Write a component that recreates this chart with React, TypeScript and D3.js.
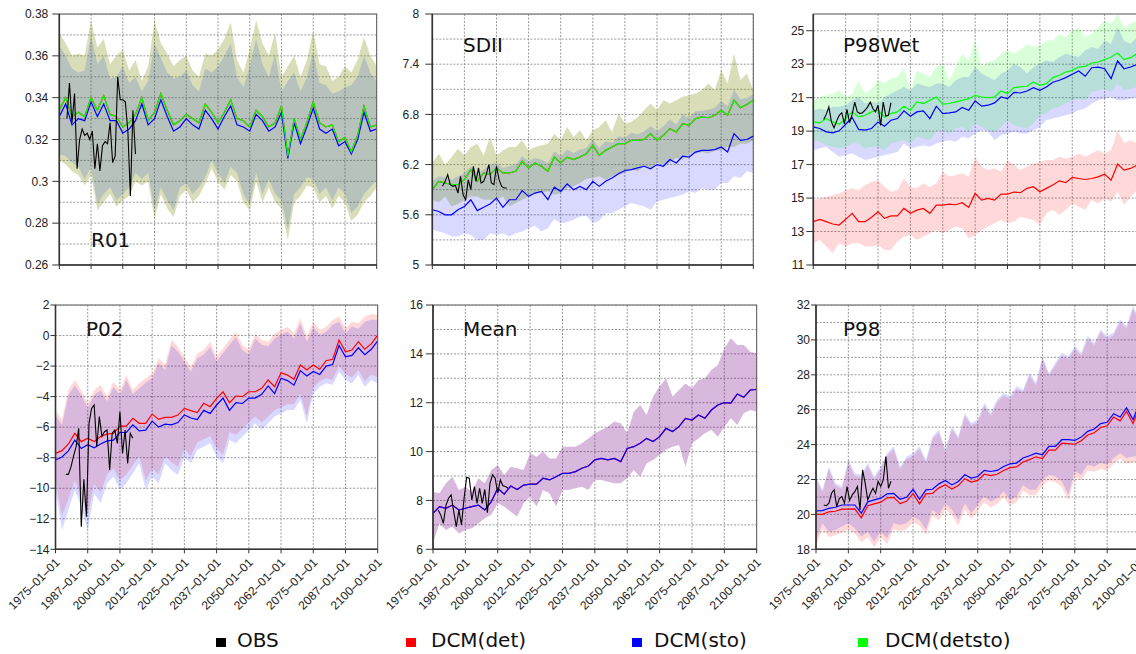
import React from "react";
import * as d3 from "d3";

// x categories: one sample every 2.5 years
const years = d3.range(51).map((i) => 1975 + i * 2.5);
const tickYears = d3.range(11).map((i) => 1975 + i * 12.5);

const OBS = "#000000";
const DET = "#ff0000";
const STO = "#0000ff";
const DETSTO = "#00ff00";

// ---- R01
const r01Det = [0.334,0.340,0.331,0.333,0.331,0.340,0.334,0.341,0.332,0.331,0.326,0.328,0.332,0.340,0.329,0.333,0.342,0.334,0.327,0.329,0.332,0.330,0.328,0.337,0.333,0.328,0.333,0.339,0.330,0.329,0.326,0.334,0.331,0.326,0.328,0.336,0.312,0.330,0.320,0.328,0.338,0.328,0.326,0.327,0.319,0.321,0.314,0.322,0.336,0.326,0.327];
const r01Sto = [0.331,0.337,0.327,0.330,0.329,0.338,0.331,0.337,0.329,0.329,0.323,0.325,0.329,0.337,0.327,0.330,0.339,0.331,0.324,0.326,0.330,0.327,0.325,0.334,0.330,0.325,0.331,0.336,0.327,0.326,0.324,0.332,0.329,0.324,0.326,0.333,0.311,0.328,0.318,0.326,0.335,0.325,0.323,0.325,0.317,0.319,0.313,0.320,0.333,0.324,0.325];
const r01DetHi = [0.371,0.366,0.360,0.361,0.360,0.377,0.364,0.368,0.356,0.360,0.363,0.353,0.358,0.348,0.355,0.377,0.366,0.361,0.355,0.358,0.360,0.353,0.350,0.361,0.360,0.363,0.368,0.376,0.358,0.352,0.363,0.377,0.366,0.360,0.371,0.350,0.355,0.360,0.350,0.358,0.372,0.356,0.355,0.348,0.350,0.355,0.352,0.358,0.369,0.360,0.355];
const r01DetLo = [0.310,0.308,0.305,0.303,0.298,0.303,0.286,0.290,0.294,0.288,0.291,0.293,0.300,0.298,0.300,0.282,0.294,0.287,0.283,0.293,0.296,0.290,0.293,0.299,0.306,0.300,0.296,0.303,0.300,0.290,0.286,0.300,0.290,0.297,0.290,0.287,0.272,0.290,0.293,0.298,0.297,0.290,0.293,0.287,0.293,0.290,0.281,0.284,0.290,0.293,0.297];
const r01StoHi = [0.365,0.360,0.354,0.352,0.353,0.370,0.356,0.360,0.349,0.350,0.355,0.347,0.350,0.343,0.348,0.366,0.359,0.352,0.349,0.350,0.353,0.346,0.343,0.354,0.352,0.355,0.360,0.366,0.350,0.345,0.355,0.368,0.356,0.350,0.361,0.343,0.348,0.352,0.343,0.350,0.362,0.347,0.346,0.342,0.343,0.345,0.346,0.350,0.360,0.352,0.348];
const r01StoLo = [0.313,0.312,0.309,0.307,0.301,0.307,0.289,0.294,0.297,0.291,0.294,0.297,0.304,0.301,0.304,0.286,0.297,0.291,0.286,0.297,0.299,0.294,0.297,0.302,0.310,0.304,0.299,0.307,0.304,0.294,0.289,0.304,0.294,0.301,0.294,0.291,0.277,0.294,0.297,0.302,0.301,0.294,0.297,0.291,0.297,0.294,0.285,0.288,0.294,0.297,0.301];
const r01Obs = [0.330,0.347,0.328,0.342,0.306,0.320,0.325,0.322,0.323,0.320,0.324,0.306,0.318,0.305,0.317,0.319,0.318,0.328,0.309,0.312,0.350,0.339,0.339,0.338,0.324,0.293,0.334,0.313];
const r01Ticks = [0.26, 0.28, 0.3, 0.32, 0.34, 0.36, 0.38];

// ---- SDII
const sdiiDet = [5.90,6.00,5.98,5.96,5.96,6.02,6.14,6.00,6.10,6.08,6.16,6.10,6.10,6.12,6.24,6.16,6.22,6.18,6.12,6.29,6.22,6.29,6.26,6.29,6.33,6.43,6.31,6.37,6.41,6.45,6.45,6.49,6.49,6.50,6.57,6.49,6.55,6.63,6.59,6.69,6.67,6.75,6.77,6.76,6.79,6.85,6.79,6.97,6.88,6.92,6.97];
const sdiiSto = [5.66,5.64,5.60,5.60,5.66,5.70,5.78,5.65,5.69,5.73,5.80,5.69,5.78,5.78,5.89,5.82,5.86,5.88,5.78,5.93,5.88,5.97,5.90,5.94,5.90,6.00,5.94,6.00,6.04,6.09,6.13,6.14,6.16,6.18,6.15,6.20,6.18,6.26,6.22,6.30,6.29,6.35,6.37,6.37,6.38,6.41,6.35,6.57,6.49,6.50,6.54];
const sdiiDetHi = [6.22,6.33,6.20,6.29,6.39,6.31,6.41,6.45,6.31,6.53,6.31,6.37,6.41,6.41,6.49,6.37,6.41,6.43,6.45,6.57,6.49,6.65,6.53,6.61,6.49,6.61,6.65,6.73,6.59,6.81,6.69,6.71,6.77,6.85,6.93,6.85,6.97,6.93,6.97,7.01,7.03,7.05,7.09,7.17,7.09,7.33,7.17,7.53,7.21,7.29,7.09];
const sdiiDetLo = [5.78,5.75,5.82,5.70,5.73,5.78,5.82,5.82,5.78,5.78,5.78,5.82,5.70,5.74,5.78,5.82,5.86,5.86,5.88,5.84,5.86,5.92,5.94,5.98,6.03,6.04,6.06,6.02,6.06,6.08,6.10,6.14,6.12,6.18,6.16,6.22,6.20,6.22,6.28,6.26,6.33,6.33,6.35,6.33,6.37,6.37,6.41,6.41,6.45,6.45,6.49];
const sdiiStoHi = [6.00,6.06,6.05,6.02,6.06,6.10,6.18,6.10,6.14,6.20,6.22,6.16,6.18,6.20,6.30,6.24,6.28,6.26,6.22,6.36,6.30,6.38,6.34,6.38,6.40,6.50,6.40,6.48,6.46,6.54,6.52,6.58,6.56,6.60,6.66,6.60,6.66,6.74,6.68,6.80,6.76,6.84,6.84,6.86,6.88,6.96,6.90,7.10,6.98,7.00,7.04];
const sdiiStoLo = [5.42,5.40,5.38,5.34,5.34,5.38,5.36,5.30,5.30,5.38,5.36,5.38,5.34,5.38,5.40,5.44,5.47,5.40,5.44,5.55,5.50,5.51,5.54,5.58,5.59,5.50,5.53,5.62,5.62,5.66,5.70,5.74,5.72,5.70,5.66,5.76,5.78,5.80,5.82,5.84,5.88,5.86,5.92,5.90,5.90,5.98,5.98,6.06,6.04,6.12,6.10];
const sdiiObs = [5.94,6.00,6.08,5.96,5.94,5.95,5.86,6.06,5.84,5.78,6.02,5.90,6.18,6.00,6.16,5.98,6.00,6.08,6.20,5.98,5.96,6.18,6.02,5.94,5.92,5.92];
const sdiiTicks = [5, 5.6, 6.2, 6.8, 7.4, 8];

// ---- P98Wet
const p98wDet = [13.59,13.73,13.59,13.45,13.39,13.73,14.09,13.59,13.59,13.85,14.18,13.79,13.93,13.93,14.38,14.09,14.28,14.38,14.09,14.58,14.58,14.64,14.60,14.72,14.44,15.28,14.88,14.98,14.88,15.24,15.24,15.36,15.32,15.58,15.68,15.38,15.58,15.78,16.03,15.92,16.23,16.17,16.11,16.17,16.27,16.43,16.07,17.03,16.67,16.77,16.97];
const p98wSto = [19.25,19.16,18.96,18.90,19.02,19.41,19.81,19.10,19.06,19.16,19.55,19.29,19.65,19.75,20.21,19.89,20.15,20.21,19.75,20.49,20.05,20.09,20.15,20.41,20.25,20.81,20.49,20.55,20.69,21.04,20.94,21.32,21.28,21.40,21.60,21.44,21.64,21.92,22.04,22.20,22.40,22.59,22.28,22.79,22.83,22.73,22.14,23.19,22.73,22.83,22.99];
const p98wDetSto = [19.55,19.49,19.75,19.55,19.41,19.75,20.15,19.85,19.95,20.15,20.25,19.85,20.05,20.15,20.49,20.25,20.75,20.65,20.84,21.04,20.61,20.65,20.75,20.84,20.94,21.14,21.04,21.00,21.04,21.40,21.24,21.60,21.64,21.68,21.94,21.74,21.84,22.20,22.34,22.53,22.63,22.83,22.87,23.07,23.13,23.27,23.43,23.67,23.27,23.39,23.63];
const p98wDetHi = [14.88,14.98,15.08,15.18,15.28,15.48,15.58,15.48,15.78,15.98,16.07,15.68,15.38,15.48,16.18,15.68,15.58,15.88,15.68,15.88,16.58,16.27,16.38,16.48,16.27,17.47,16.88,16.68,16.78,16.58,17.27,16.98,16.68,16.88,17.07,17.17,17.27,17.27,17.47,17.37,17.47,17.67,17.47,17.67,17.87,17.67,17.87,19.06,18.27,18.47,18.27];
const p98wDetLo = [12.30,12.49,12.10,11.70,12.30,12.10,12.30,12.30,12.10,12.10,12.20,11.90,11.90,12.40,12.69,12.79,12.49,12.69,12.89,13.09,12.89,13.09,13.29,13.19,12.59,12.79,13.09,13.29,13.49,13.69,13.49,13.59,13.89,13.79,13.69,13.39,14.09,14.28,13.99,14.28,14.68,14.48,14.28,14.88,14.68,14.98,14.78,15.38,14.58,15.08,15.48];
const p98wStoHi = [20.25,20.35,20.25,20.45,20.45,20.55,20.84,21.04,20.65,20.75,20.65,21.04,21.24,21.44,21.64,21.44,21.84,21.74,21.64,21.84,21.84,21.64,22.04,22.24,22.24,22.83,22.44,22.24,22.04,22.44,22.63,23.03,22.83,22.44,22.83,23.03,23.23,23.13,23.43,23.63,23.53,23.43,23.83,24.03,23.93,24.42,24.22,25.22,24.42,24.22,24.62];
const p98wStoLo = [17.86,17.96,18.06,17.76,17.47,17.56,17.66,17.47,17.27,17.37,17.47,17.56,17.66,17.76,18.26,17.96,18.06,18.16,18.06,18.26,18.36,18.46,18.36,18.66,18.56,18.86,19.06,18.96,18.46,18.76,18.86,18.96,18.86,18.86,19.06,19.25,19.65,19.75,19.85,19.95,20.05,20.25,20.35,20.65,20.84,20.94,21.04,20.84,20.84,20.94,21.04];
const p98wDetStoHi = [20.84,21.04,21.14,21.24,21.44,21.04,21.24,22.04,21.24,21.54,22.04,21.84,22.14,22.24,22.83,21.44,22.63,22.44,22.24,22.83,23.03,22.04,22.83,23.63,23.23,24.42,22.83,23.13,23.23,23.63,23.83,23.63,23.83,24.22,24.03,24.13,24.42,24.42,24.82,24.62,25.02,25.22,24.62,24.82,25.22,25.62,25.42,25.97,25.22,25.42,25.62];
const p98wDetStoLo = [18.46,18.36,18.16,18.06,17.96,18.06,18.26,18.26,17.96,18.06,18.06,17.86,18.26,18.36,18.46,18.26,18.66,18.56,18.46,18.96,19.06,18.86,19.16,19.25,18.96,19.45,19.25,19.06,18.96,19.25,19.65,19.35,19.25,19.16,19.45,19.95,20.05,20.35,20.45,20.65,20.84,20.94,20.84,21.34,21.44,21.54,21.34,21.84,21.44,21.54,21.64];
const p98wObs = [19.70,20.00,20.44,19.55,19.20,19.60,19.95,20.10,19.44,20.30,19.50,20.00,20.74,20.15,20.05,20.10,20.25,20.45,20.74,20.35,20.15,20.55,19.34,20.74,19.90,19.95,20.70];
const p98wTicks = [11, 13, 15, 17, 19, 21, 23, 25];

// ---- P02
const p02Det = [-7.72,-7.54,-7.10,-6.41,-6.95,-6.73,-6.95,-6.62,-6.45,-6.41,-5.93,-5.93,-5.42,-5.75,-5.75,-5.14,-5.49,-5.36,-5.36,-5.21,-4.77,-4.92,-5.05,-4.44,-4.66,-4.11,-3.68,-4.40,-3.96,-4.00,-3.68,-3.68,-3.46,-2.91,-3.35,-2.43,-2.59,-2.87,-1.93,-2.26,-1.93,-2.21,-1.65,-1.56,-0.29,-1.06,-0.95,-0.40,-0.90,-0.55,0.03];
const p02Sto = [-8.15,-7.95,-7.55,-6.85,-7.40,-7.15,-7.35,-7.10,-6.90,-6.85,-6.35,-6.35,-5.85,-6.25,-6.20,-5.60,-6.00,-5.80,-5.85,-5.70,-5.20,-5.40,-5.50,-4.90,-5.10,-4.55,-4.10,-4.90,-4.40,-4.45,-4.10,-4.10,-3.85,-3.30,-3.80,-2.80,-2.95,-3.25,-2.30,-2.65,-2.35,-2.55,-2.00,-1.90,-0.65,-1.40,-1.30,-0.80,-1.25,-0.90,-0.35];
const p02DetHi = [-4.88,-5.53,-3.57,-2.91,-3.57,-4.44,-3.57,-3.24,-4.00,-3.02,-3.57,-2.59,-3.57,-3.13,-2.80,-2.48,-1.49,-1.93,-0.29,-0.73,-1.38,-2.04,-1.17,-0.95,-0.40,-1.38,-0.84,-0.29,0.25,-0.62,-0.95,0.14,-0.29,-0.40,0.14,0.36,0.58,0.14,1.13,-0.07,0.91,0.36,0.58,1.02,1.24,0.47,0.91,0.80,1.24,1.41,1.34];
const p02DetLo = [-9.50,-11.80,-10.70,-9.50,-10.50,-11.80,-9.70,-10.30,-9.10,-8.70,-9.50,-9.10,-8.50,-7.90,-9.50,-8.70,-9.10,-7.90,-8.30,-8.60,-7.40,-7.90,-7.00,-6.80,-6.60,-7.40,-7.80,-6.30,-6.50,-6.10,-5.70,-5.30,-5.70,-5.30,-4.90,-4.70,-4.50,-4.50,-3.80,-5.30,-3.40,-3.00,-2.80,-2.90,-2.00,-2.55,-2.75,-2.25,-3.00,-2.55,-2.75];
const p02StoHi = [-5.20,-5.85,-3.90,-3.25,-3.90,-4.75,-3.90,-3.60,-4.30,-3.35,-3.90,-2.90,-3.85,-3.45,-3.10,-2.80,-1.80,-2.25,-0.65,-1.05,-1.70,-2.35,-1.50,-1.25,-0.75,-1.70,-1.15,-0.60,-0.10,-0.95,-1.25,-0.20,-0.60,-0.70,-0.20,0.05,0.25,-0.20,0.80,-0.40,0.55,0.05,0.25,0.70,0.90,0.15,0.60,0.45,0.90,1.05,1.00];
const p02StoLo = [-10.12,-12.74,-11.43,-10.12,-11.21,-12.74,-10.34,-10.99,-9.68,-9.24,-10.12,-9.68,-9.03,-8.37,-10.12,-9.24,-9.68,-8.37,-8.80,-9.14,-7.93,-8.37,-7.50,-7.28,-7.06,-7.93,-8.37,-6.84,-7.06,-6.62,-6.19,-5.75,-6.19,-5.75,-5.31,-5.10,-4.88,-4.88,-4.22,-5.75,-3.79,-3.35,-3.13,-3.24,-2.37,-2.91,-3.13,-2.59,-3.35,-2.91,-3.13];
const p02Obs = [-9.09,-9.09,-8.60,-7.90,-7.28,-6.08,-12.52,-9.42,-11.86,-5.75,-4.77,-4.55,-7.28,-5.31,-6.60,-6.30,-6.19,-8.80,-6.40,-6.19,-7.06,-4.99,-7.72,-6.19,-8.37,-6.40,-6.73];
const p02Ticks = [-14, -12, -10, -8, -6, -4, -2, 0, 2];

// ---- Mean (det and sto coincide)
const meanSto = [7.47,7.75,7.68,7.81,7.61,7.68,7.75,7.81,7.61,7.95,8.50,8.26,8.59,8.45,8.63,8.67,8.67,8.91,8.84,8.97,9.11,9.11,9.18,9.32,9.41,9.66,9.72,9.66,9.72,9.59,10.13,10.20,10.34,10.54,10.41,10.61,10.95,10.82,11.02,11.36,11.29,11.50,11.36,11.70,11.91,12.00,11.98,12.36,12.22,12.52,12.55];
const meanHi = [8.36,8.29,8.70,8.97,8.43,8.56,8.36,8.91,8.70,9.25,9.45,9.04,9.38,9.32,9.25,9.93,9.79,10.00,9.72,9.72,10.20,10.20,10.20,10.34,10.54,10.75,10.88,11.02,11.23,11.16,10.75,11.63,11.91,11.50,12.25,12.66,13.00,12.25,12.52,12.79,12.59,12.93,13.00,13.34,13.54,14.23,14.64,14.36,14.36,14.09,14.02];
const meanLo = [6.25,7.06,6.79,6.93,6.65,6.79,6.86,7.06,7.27,7.41,7.88,7.75,7.54,7.34,7.88,8.16,7.75,8.43,8.29,7.75,8.43,8.43,8.50,8.56,8.43,8.84,8.84,8.77,8.70,8.70,8.91,9.25,8.97,9.52,9.66,9.86,10.07,10.20,10.27,9.38,10.34,10.54,10.75,10.88,10.61,11.02,11.36,11.09,11.57,11.70,11.63];
const meanObs = [7.61,7.40,7.06,7.80,8.09,8.23,7.54,6.93,7.61,7.00,8.09,8.95,8.91,8.02,8.57,7.88,8.50,7.88,8.45,7.50,8.70,9.05,8.91,8.30,8.84,8.60,8.57,8.50];
const meanTicks = [6, 8, 10, 12, 14, 16];

// ---- P98
const p98Det = [20.00,20.00,20.15,20.18,20.30,20.30,20.32,19.80,20.50,20.60,20.70,20.95,20.98,20.62,20.75,21.20,20.60,21.18,21.20,21.52,21.70,21.45,21.65,22.05,21.85,21.95,22.30,22.22,22.30,22.52,22.68,22.72,23.00,23.14,23.30,23.20,23.68,23.68,24.08,24.06,24.02,24.22,24.55,24.68,24.98,25.08,25.58,25.36,25.90,25.20,26.20];
const p98Sto = [20.20,20.22,20.35,20.41,20.54,20.54,20.54,20.07,20.72,20.83,20.93,21.18,21.21,20.87,20.98,21.44,20.87,21.41,21.44,21.75,21.94,21.69,21.89,22.27,22.08,22.17,22.52,22.46,22.52,22.75,22.90,22.94,23.23,23.36,23.51,23.42,23.90,23.90,24.28,24.28,24.24,24.43,24.76,24.89,25.20,25.28,25.77,25.58,26.10,25.43,26.39];
const p98DetHi = [22.02,21.26,22.60,21.64,21.45,22.98,22.21,22.12,22.79,22.02,22.60,23.36,23.75,22.60,23.17,23.36,23.75,22.98,24.32,24.70,23.56,24.90,24.32,25.66,25.09,25.28,26.24,25.66,26.43,26.81,26.62,27.19,27.00,27.96,27.39,28.92,27.96,28.54,29.11,28.92,29.49,29.11,30.07,29.69,30.45,30.07,30.26,31.03,30.64,31.79,31.03];
const p98DetLo = [18.20,19.15,18.70,18.80,18.95,19.15,18.90,18.40,18.70,18.10,18.70,18.30,19.15,19.05,19.15,19.55,19.35,18.80,19.95,19.65,20.30,19.95,19.35,20.30,19.75,20.20,20.70,20.40,20.60,21.00,20.50,20.70,21.35,21.10,21.10,21.65,21.95,21.85,21.55,20.80,22.15,21.95,22.50,22.45,22.60,22.50,22.90,23.20,22.90,23.00,23.00];
const p98StoHi = [22.17,21.41,22.75,21.79,21.60,23.13,22.36,22.27,22.94,22.17,22.75,23.51,23.90,22.75,23.32,23.51,23.90,23.13,24.47,24.85,23.71,25.05,24.47,25.81,25.24,25.43,26.39,25.81,26.58,26.96,26.77,27.34,27.15,28.11,27.54,29.07,28.11,28.69,29.26,29.07,29.64,29.26,30.22,29.84,30.60,30.22,30.41,31.18,30.79,31.94,31.18];
const p98StoLo = [18.53,19.49,19.01,19.11,19.30,19.49,19.20,18.72,19.01,18.44,19.01,18.63,19.49,19.39,19.49,19.87,19.68,19.11,20.26,19.97,20.64,20.26,19.68,20.64,20.07,20.54,21.02,20.74,20.93,21.31,20.83,21.02,21.69,21.41,21.41,21.98,22.27,22.17,21.89,21.12,22.46,22.27,22.84,22.75,22.94,22.84,23.23,23.51,23.23,23.32,23.32];
const p98Obs = [20.54,20.50,20.64,21.21,21.41,20.45,20.90,21.02,20.64,21.60,20.80,21.12,21.30,21.60,20.26,22.55,21.79,20.83,21.20,21.50,21.20,21.89,21.60,21.98,23.32,21.50,21.90];
const p98Ticks = [18, 20, 22, 24, 26, 28, 30, 32];

const legendLabels = ["OBS", "DCM(det)", "DCM(sto)", "DCM(detsto)"];
const legendColors = [OBS, DET, STO, DETSTO];

const panels = [
  {
    id: "r01", title: "R01", titleX: 91, titleY: 247,
    left: 59.3, right: 376.7, top: 14, bottom: 265,
    yMin: 0.26, yMax: 0.38, grid: 0.01, ticks: r01Ticks, gap: 11, xLabels: false,
    bands: [{ lo: r01DetLo, hi: r01DetHi, c: DET }, { lo: r01StoLo, hi: r01StoHi, c: STO }, { lo: r01DetLo, hi: r01DetHi, c: DETSTO }],
    lines: [{ v: r01Det, c: DET }, { v: r01Sto, c: STO }, { v: r01Det, c: DETSTO }],
    obsStart: 1978, obs: r01Obs,
  },
  {
    id: "sdii", title: "SDII", titleX: 463, titleY: 52,
    left: 432.3, right: 753.3, top: 14, bottom: 265,
    yMin: 5, yMax: 8, grid: 0.3, ticks: sdiiTicks, gap: 13, xLabels: false,
    bands: [{ lo: sdiiDetLo, hi: sdiiDetHi, c: DET }, { lo: sdiiStoLo, hi: sdiiStoHi, c: STO }, { lo: sdiiDetLo, hi: sdiiDetHi, c: DETSTO }],
    lines: [{ v: sdiiDet, c: DET }, { v: sdiiSto, c: STO }, { v: sdiiDet, c: DETSTO }],
    obsStart: 1979, obs: sdiiObs,
  },
  {
    id: "p98w", title: "P98Wet", titleX: 843, titleY: 52,
    left: 813.3, right: 1137, top: 14, bottom: 265,
    yMin: 11, yMax: 26, grid: 2, ticks: p98wTicks, gap: 9, xLabels: false,
    bands: [{ lo: p98wDetLo, hi: p98wDetHi, c: DET }, { lo: p98wStoLo, hi: p98wStoHi, c: STO }, { lo: p98wDetStoLo, hi: p98wDetStoHi, c: DETSTO }],
    lines: [{ v: p98wDet, c: DET }, { v: p98wSto, c: STO }, { v: p98wDetSto, c: DETSTO }],
    obsStart: 1979, obs: p98wObs,
  },
  {
    id: "p02", title: "P02", titleX: 86, titleY: 336,
    left: 55.5, right: 377.7, top: 305, bottom: 549.3,
    yMin: -14, yMax: 2, grid: 2, ticks: p02Ticks, gap: 6, xLabels: true,
    bands: [{ lo: p02DetLo, hi: p02DetHi, c: DET }, { lo: p02StoLo, hi: p02StoHi, c: STO }],
    lines: [{ v: p02Det, c: DET }, { v: p02Sto, c: STO }],
    obsStart: 1979, obs: p02Obs,
  },
  {
    id: "mean", title: "Mean", titleX: 463, titleY: 336,
    left: 433, right: 756.7, top: 305, bottom: 549.3,
    yMin: 6, yMax: 16, grid: 1, ticks: meanTicks, gap: 10, xLabels: true,
    bands: [{ lo: meanLo, hi: meanHi, c: DET }, { lo: meanLo, hi: meanHi, c: STO }],
    lines: [{ v: meanSto, c: DET }, { v: meanSto, c: STO }],
    obsStart: 1977, obs: meanObs,
  },
  {
    id: "p98", title: "P98", titleX: 843, titleY: 336,
    left: 816, right: 1139.5, top: 305, bottom: 549.3,
    yMin: 18, yMax: 32, grid: 1, ticks: p98Ticks, gap: 6, xLabels: true,
    bands: [{ lo: p98DetLo, hi: p98DetHi, c: DET }, { lo: p98StoLo, hi: p98StoHi, c: STO }],
    lines: [{ v: p98Det, c: DET }, { v: p98Sto, c: STO }],
    obsStart: 1978, obs: p98Obs,
  },
];

const tickFont = "'Liberation Sans', Arial, sans-serif";
const titleFont = "'DejaVu Sans', Verdana, sans-serif";

const fmtY = (v: number) => (v < 0 ? "\u2212" + Math.abs(v) : String(v));
const fmtX = (yr: number) => `${Math.floor(yr)}\u201301\u201301`;

function Panel({ p }: { p: any }) {
  const x = d3.scaleLinear().domain([1975, 2100]).range([p.left, p.right]);
  const y = d3.scaleLinear().domain([p.yMin, p.yMax]).range([p.bottom, p.top]);
  const n = Math.round((p.yMax - p.yMin) / p.grid);
  const gridVals = d3.range(n + 1).map((i) => p.yMin + i * p.grid);

  const line = (vals: number[], start: number, step: number) =>
    d3.line<number>().x((_, i) => x(start + i * step)).y((d) => y(d))(vals) || "";
  const area = (lo: number[], hi: number[]) =>
    d3.area<number>().x((_, i) => x(years[i])).y0((_, i) => y(lo[i])).y1((d) => y(d))(hi) || "";

  return (
    <g>
      <defs>
        <clipPath id={`clip-${p.id}`}>
          <rect x={p.left} y={p.top} width={p.right - p.left} height={p.bottom - p.top} />
        </clipPath>
      </defs>
      <rect x={p.left} y={p.top} width={p.right - p.left} height={p.bottom - p.top} fill="#fff" />
      <g clipPath={`url(#clip-${p.id})`}>
        {gridVals.map((g, i) => (
          <line key={"h" + i} x1={p.left} x2={p.right} y1={y(g)} y2={y(g)}
            stroke="#9a9a9a" strokeWidth={1} strokeDasharray="2,1.5" />
        ))}
        {tickYears.map((t, i) => (
          <line key={"v" + i} x1={x(t)} x2={x(t)} y1={p.top} y2={p.bottom}
            stroke="#9a9a9a" strokeWidth={1} strokeDasharray="2,1.5" />
        ))}
        {p.bands.map((b: any, i: number) => (
          <path key={"b" + i} d={area(b.lo, b.hi)} fill={b.c} fillOpacity={0.15} />
        ))}
        {p.lines.map((l: any, i: number) => (
          <path key={"l" + i} d={line(l.v, 1975, 2.5)} fill="none" stroke={l.c} strokeWidth={1.2} />
        ))}
        <path d={line(p.obs, p.obsStart, 1)} fill="none" stroke={OBS} strokeWidth={1.1} />
      </g>
      <rect x={p.left} y={p.top} width={p.right - p.left} height={p.bottom - p.top}
        fill="none" stroke="#555" strokeWidth={1} />
      <line x1={p.left} x2={p.left} y1={p.top} y2={p.bottom} stroke="#333" strokeWidth={1.6} />
      <line x1={p.left} x2={p.right} y1={p.bottom} y2={p.bottom} stroke="#333" strokeWidth={1.6} />
      {p.ticks.map((t: number, i: number) => (
        <g key={"yt" + i}>
          <line x1={p.left - Math.min(p.gap - 1, 7)} x2={p.left} y1={y(t)} y2={y(t)} stroke="#333" />
          <text x={p.left - p.gap} y={y(t)} dy="0.35em" textAnchor="end"
            fontFamily={tickFont} fontSize={12} fill="#222">{fmtY(t)}</text>
        </g>
      ))}
      {tickYears.map((t, i) => (
        <line key={"xt" + i} x1={x(t)} x2={x(t)} y1={p.bottom} y2={p.bottom + 4} stroke="#333" />
      ))}
      {p.xLabels && tickYears.map((t, i) => (
        <text key={"xl" + i} transform={`translate(${x(t) + 5},${p.bottom + 14}) rotate(-45)`}
          textAnchor="end" fontFamily={tickFont} fontSize={12} fill="#222">{fmtX(t)}</text>
      ))}
      <text x={p.titleX} y={p.titleY} fontFamily={titleFont} fontSize={20} fill="#111">{p.title}</text>
    </g>
  );
}

const legendSquareX = [216, 406, 632, 858];
const legendTextX = [237, 431, 654, 885];

export default function App() {
  return (
    <svg width={1136} height={654} style={{ position: "absolute", left: 0, top: 0, background: "#fff" }}>
      <rect width={1136} height={654} fill="#fff" />
      {panels.map((p) => (
        <Panel key={p.id} p={p} />
      ))}
      {legendLabels.map((lab, i) => (
        <g key={lab}>
          <rect x={legendSquareX[i]} y={638} width={10} height={9} fill={legendColors[i]} />
          <text x={legendTextX[i]} y={647} fontFamily={titleFont} fontSize={20} fill="#111">{lab}</text>
        </g>
      ))}
    </svg>
  );
}
